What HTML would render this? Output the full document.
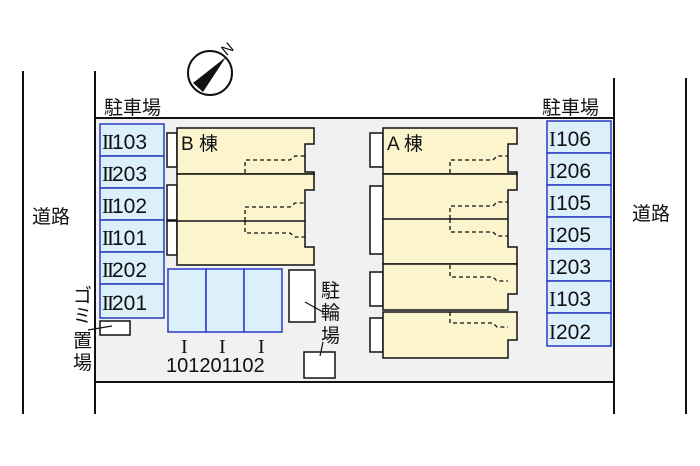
<!DOCTYPE html>
<html><head><meta charset="utf-8"><style>
html,body{margin:0;padding:0;background:#fff;}
svg{display:block;}
text{font-family:"Liberation Sans","Noto Sans CJK JP",sans-serif;fill:#111;}
.s{font-family:"Liberation Serif",serif;}
</style></head><body>
<svg width="700" height="466" viewBox="0 0 700 466" xmlns="http://www.w3.org/2000/svg">
<line x1="23" y1="71" x2="23" y2="414" stroke="#111" stroke-width="2"/>
<line x1="95" y1="71" x2="95" y2="414" stroke="#111" stroke-width="2"/>
<line x1="614" y1="78" x2="614" y2="414" stroke="#111" stroke-width="2"/>
<line x1="686" y1="78" x2="686" y2="414" stroke="#111" stroke-width="2"/>
<rect x="95" y="118" width="519" height="264" fill="#f1f1f1" stroke="#111" stroke-width="2"/>
<circle cx="210" cy="73" r="22" fill="#fff" stroke="#111" stroke-width="2"/>
<polygon points="226,57 193,83 203,92" fill="#111"/>
<text x="222" y="52" font-size="15" transform="rotate(-40 230 48)">N</text>
<text x="104" y="114" font-size="19">駐車場</text>
<text x="542" y="114" font-size="19">駐車場</text>
<text x="32" y="223" font-size="19">道路</text>
<text x="632" y="220" font-size="19">道路</text>
<g font-size="19"><text x="73" y="302">ゴ</text><text x="73" y="322">ミ</text><text x="73" y="347">置</text><text x="73" y="369">場</text></g>
<g font-size="19"><text x="321" y="297">駐</text><text x="321" y="319">輪</text><text x="321" y="342">場</text></g>
<g stroke="#2a3bc4" stroke-width="1.5" fill="#dcf0fb">
<rect x="100" y="124" width="64" height="32"/><rect x="100" y="156" width="64" height="32"/>
<rect x="100" y="188" width="64" height="32"/><rect x="100" y="220" width="64" height="32"/>
<rect x="100" y="252" width="64" height="32"/><rect x="100" y="284" width="64" height="34"/>
<rect x="168" y="269" width="38" height="63"/><rect x="206" y="269" width="38" height="63"/><rect x="244" y="269" width="38" height="63"/>
</g>
<g font-size="21">
<text x="102" y="149"><tspan class="s" letter-spacing="-2">II</tspan>103</text>
<text x="102" y="181"><tspan class="s" letter-spacing="-2">II</tspan>203</text>
<text x="102" y="213"><tspan class="s" letter-spacing="-2">II</tspan>102</text>
<text x="102" y="245"><tspan class="s" letter-spacing="-2">II</tspan>101</text>
<text x="102" y="277"><tspan class="s" letter-spacing="-2">II</tspan>202</text>
<text x="102" y="310"><tspan class="s" letter-spacing="-2">II</tspan>201</text>
</g>
<g font-size="20" class="s"><text class="s" x="181" y="353">I</text><text class="s" x="219" y="353">I</text><text class="s" x="258" y="353">I</text></g>
<text x="166" y="372" font-size="20">101201102</text>
<g fill="#fff" stroke="#111" stroke-width="1.5">
<rect x="100" y="321" width="30" height="14"/>
<rect x="289" y="270" width="26" height="52"/>
<rect x="304" y="352" width="31" height="26"/>
</g>
<line x1="88" y1="330" x2="112" y2="326" stroke="#111" stroke-width="1.2"/>
<line x1="305" y1="302" x2="323" y2="312" stroke="#111" stroke-width="1.2"/>
<line x1="323" y1="342" x2="320" y2="356" stroke="#111" stroke-width="1.2"/>
<g fill="#fff" stroke="#111" stroke-width="1.5">
<rect x="167" y="133" width="10" height="34"/><rect x="167" y="185" width="10" height="35"/><rect x="167" y="221" width="10" height="34"/>
</g>
<g fill="#fbf4cd" stroke="#111" stroke-width="1.5">
<path d="M177,128 H314 V144 H305 V172 H314 V174 H177 Z"/>
<path d="M177,174 H314 V190 H305 V247 H314 V265 H177 Z"/>
</g>
<line x1="177" y1="221" x2="305" y2="221" stroke="#111" stroke-width="1.5"/>
<g fill="none" stroke="#111" stroke-width="1.3" stroke-dasharray="4,3">
<path d="M245,173 V160 H290 L295,156 H305"/>
<path d="M245,221 V207 H290 L295,203 H305"/>
<path d="M245,221 V233 H290 L295,237 H305"/>
</g>
<text x="181" y="150" font-size="19">B 棟</text>
<g fill="#fff" stroke="#111" stroke-width="1.5">
<rect x="370" y="133" width="13" height="34"/><rect x="370" y="186" width="13" height="68"/><rect x="370" y="272" width="13" height="34"/><rect x="370" y="318" width="13" height="34"/>
</g>
<g fill="#fbf4cd" stroke="#111" stroke-width="1.5">
<path d="M383,128 H517 V144 H508 V172 H517 V174 H383 Z"/>
<path d="M383,174 H517 V190 H508 V247 H517 V264 H383 Z"/>
<path d="M383,264 H517 V294 H508 V310 H383 Z"/>
<path d="M383,312 H517 V340 H508 V358 H383 Z"/>
</g>
<line x1="383" y1="219" x2="508" y2="219" stroke="#111" stroke-width="1.5"/>
<g fill="none" stroke="#111" stroke-width="1.3" stroke-dasharray="4,3">
<path d="M450,173 V160 H493 L497,156 H508"/>
<path d="M450,219 V206 H493 L497,202 H508"/>
<path d="M450,219 V232 H493 L497,236 H508"/>
<path d="M450,265 V277 H493 L497,281 H508"/>
<path d="M450,312 V323 H493 L497,327 H508"/>
</g>
<text x="387" y="150" font-size="19">A 棟</text>
<g stroke="#2a3bc4" stroke-width="1.5" fill="#dcf0fb">
<rect x="547" y="121" width="64" height="32"/><rect x="547" y="153" width="64" height="32"/>
<rect x="547" y="185" width="64" height="32"/><rect x="547" y="217" width="64" height="32"/>
<rect x="547" y="249" width="64" height="32"/><rect x="547" y="281" width="64" height="32"/>
<rect x="547" y="313" width="64" height="33"/>
</g>
<g font-size="21">
<text x="549" y="146"><tspan class="s">I</tspan>106</text>
<text x="549" y="178"><tspan class="s">I</tspan>206</text>
<text x="549" y="210"><tspan class="s">I</tspan>105</text>
<text x="549" y="242"><tspan class="s">I</tspan>205</text>
<text x="549" y="274"><tspan class="s">I</tspan>203</text>
<text x="549" y="306"><tspan class="s">I</tspan>103</text>
<text x="549" y="339"><tspan class="s">I</tspan>202</text>
</g>
</svg>
</body></html>
